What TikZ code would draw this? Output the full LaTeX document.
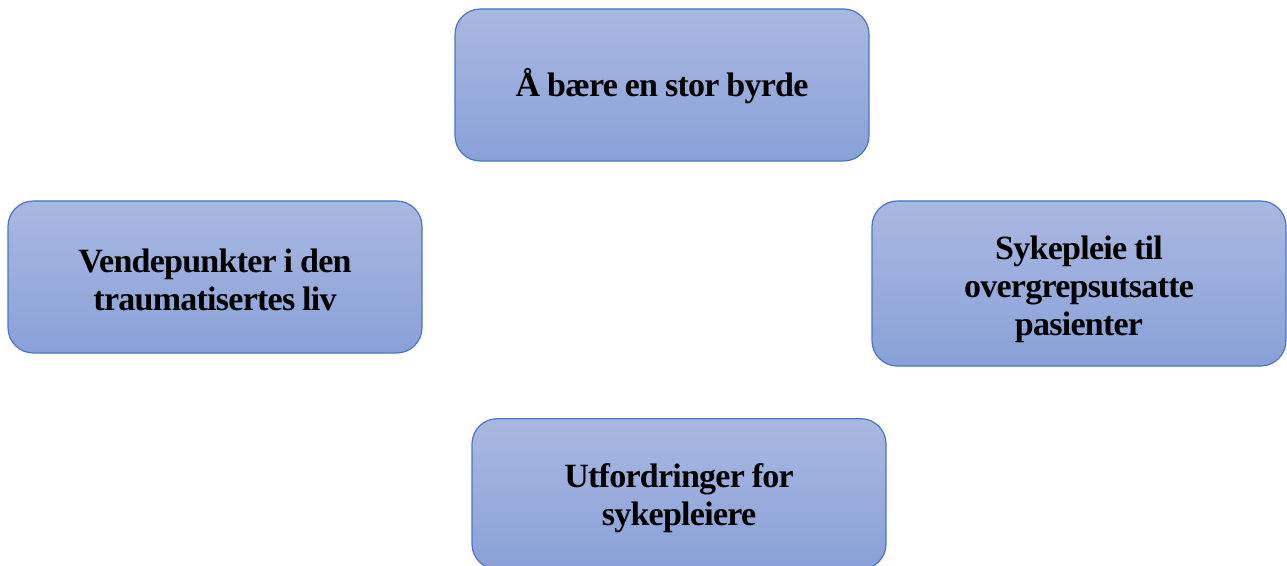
\documentclass[tikz,border=0pt]{standalone}
\usepackage{fontspec}
\setmainfont{Liberation Serif}
\newfontfamily\boxfont[LetterSpace=-2.2]{Liberation Serif Bold}
\newcommand\topicfont{\boxfont\fontsize{25.5pt}{28.5pt}\selectfont\spaceskip=5.2pt plus 1pt\relax}
\begin{document}
\begin{tikzpicture}[x=0.75pt,y=-0.75pt]
\definecolor{boxtop}{HTML}{A9B8E0}
\definecolor{boxbot}{HTML}{89A1D8}
\definecolor{boxline}{HTML}{4A74C6}
\tikzset{
  topic/.style={draw=boxline, line width=0.9pt, rounded corners=19pt,
    top color=boxtop, bottom color=boxbot, minimum width=310.5pt,
    inner sep=0pt},
  caption/.style={align=center, inner sep=0pt, font=\topicfont}
}
\useasboundingbox (0,0) rectangle (1287,566);
\begin{scope}
\clip (0,0) rectangle (1287,566);
\node[topic, minimum height=114pt,
  label={[caption, yshift=-0.6pt]center:Å bære en stor byrde}] (byrde) at (662,85) {};
\node[topic, minimum height=114pt,
  label={[caption, yshift=-2pt]center:Vendepunkter i den\\traumatisertes liv}] (vende) at (215,277) {};
\node[topic, minimum height=123.75pt,
  label={[caption, yshift=-4.4pt]center:Sykepleie til\\overgrepsutsatte\\pasienter}] (sykepleie) at (1079,283.5) {};
\node[topic, minimum height=113pt,
  label={[caption, yshift=-3pt]center:Utfordringer for\\sykepleiere}] (utford) at (679,494) {};
\end{scope}
\end{tikzpicture}
\end{document}
